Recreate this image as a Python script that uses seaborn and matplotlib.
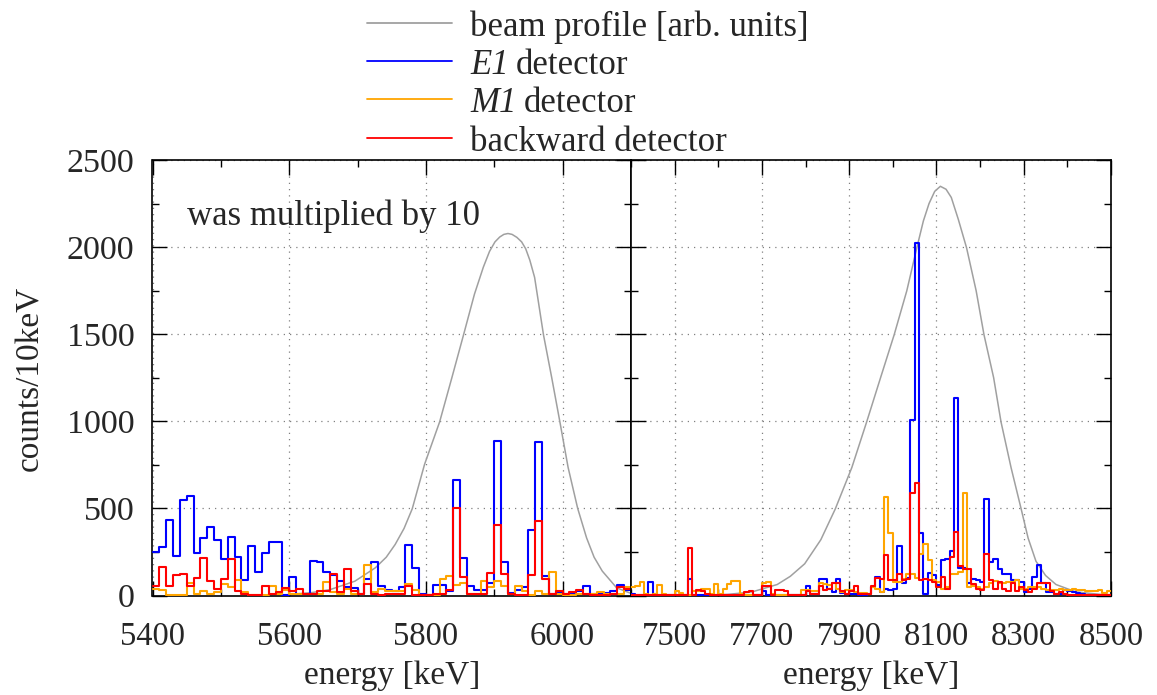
import numpy as np
import pandas as pd
import matplotlib
matplotlib.use("Agg")
import matplotlib.pyplot as plt
from matplotlib.lines import Line2D
from matplotlib.ticker import MultipleLocator
import seaborn as sns

# ---------------- data ----------------
bin_width = 10
left_start, left_stop = 5400, 6100
right_start, right_stop = 7400, 8500

blue_left = [250, 280, 435, 227, 546, 570, 244, 330, 393, 319,
             212, 338, 223, 88, 286, 137, 244, 309, 309, 5,
             107, 10, 10, 198, 193, 137, 120, 82, 50, 44,
             11, 97, 193, 55, 30, 27, 50, 289, 155, 11,
             3, 59, 59, 27, 664, 217, 57, 30, 30, 69,
             885, 193, 15, 30, 50, 374, 883, 113, 11, 19,
             11, 15, 27, 52, 11, 11, 15, 27, 59, 30]
orange_left = [40, 30, 5, 5, 5, 72, 10, 27, 10, 19,
               65, 46, 88, 19, 5, 5, 5, 53, 10, 34,
               10, 10, 10, 10, 10, 80, 20, 10, 40, 10,
               10, 177, 19, 40, 27, 27, 25, 65, 30, 3,
               3, 5, 97, 111, 59, 74, 11, 11, 82, 50,
               84, 55, 11, 55, 27, 5, 27, 11, 135, 11,
               5, 5, 11, 11, 11, 21, 11, 11, 11, 50]
red_left = [55, 162, 53, 118, 126, 55, 101, 217, 84, 36,
            95, 212, 27, 11, 5, 2, 55, 11, 21, 42,
            27, 36, 11, 11, 27, 27, 126, 21, 150, 27,
            11, 65, 11, 5, 11, 11, 11, 52, 2, 2,
            2, 11, 11, 34, 500, 107, 11, 11, 11, 130,
            405, 126, 11, 5, 5, 116, 429, 93, 11, 25,
            11, 21, 30, 11, 5, 5, 5, 11, 50, 36]

blue_right = [10, 5, 5, 5, 78, 10, 5, 5, 3, 3,
              3, 3, 3, 92, 3, 3, 3, 3, 3, 3,
              3, 3, 3, 3, 3, 3, 5, 5, 3, 3,
              27, 5, 5, 5, 5, 5, 5, 5, 5, 5,
              53, 10, 10, 97, 92, 40, 20, 97, 15, 10,
              10, 10, 5, 5, 10, 50, 105, 21, 40, 30,
              40, 285, 69, 101, 1010, 2021, 359, 11, 130, 116,
              59, 202, 212, 256, 1136, 160, 160, 69, 93, 88,
              78, 552, 193, 210, 154, 126, 126, 88, 88, 78,
              21, 40, 107, 177, 69, 21, 21, 11, 11, 30,
              27, 21, 15, 11, 5, 5, 5, 5, 5, 5]
orange_right = [50, 55, 78, 10, 5, 10, 59, 11, 5, 5,
                27, 15, 5, 5, 27, 27, 40, 40, 11, 65,
                11, 36, 65, 84, 84, 11, 5, 5, 5, 3,
                74, 78, 11, 5, 5, 5, 3, 5, 5, 30,
                30, 25, 25, 74, 65, 59, 69, 40, 20, 30,
                30, 20, 17, 17, 11, 50, 40, 21, 566, 360,
                78, 78, 97, 126, 126, 100, 237, 298, 202, 88,
                78, 40, 46, 126, 126, 135, 590, 50, 53, 50,
                40, 50, 69, 82, 69, 69, 78, 78, 88, 40,
                40, 46, 46, 46, 40, 30, 30, 30, 40, 34,
                30, 40, 30, 30, 27, 27, 27, 30, 15, 27]
red_right = [5, 3, 3, 3, 3, 3, 3, 3, 3, 3,
             5, 3, 3, 270, 5, 34, 27, 11, 5, 5,
             5, 5, 5, 5, 5, 5, 19, 25, 5, 3,
             53, 53, 5, 30, 30, 25, 3, 5, 5, 5,
             27, 11, 11, 53, 30, 40, 74, 69, 27, 11,
             27, 52, 11, 11, 11, 53, 103, 97, 230, 88,
             88, 126, 88, 92, 590, 643, 88, 92, 88, 78,
             50, 107, 40, 220, 362, 170, 150, 154, 65, 40,
             30, 237, 88, 40, 78, 40, 27, 69, 27, 50,
             30, 21, 40, 69, 69, 69, 27, 11, 21, 11,
             5, 5, 5, 5, 5, 5, 5, 5, 5, 5]

beam_left_E = [5600, 5630, 5660, 5696, 5726, 5742, 5755, 5768, 5780, 5798,
               5820, 5838, 5855, 5871, 5884, 5893, 5901, 5908, 5914, 5920,
               5926, 5933, 5940, 5946, 5952, 5959, 5972, 5984, 5996, 6008,
               6022, 6035, 6046, 6058, 6079, 6100]
beam_left_V = [6, 15, 34, 82, 159, 220, 293, 385, 498, 753,
               996, 1251, 1496, 1730, 1885, 1975, 2030, 2058, 2073, 2078,
               2073, 2056, 2030, 1990, 1925, 1826, 1496, 1251, 996, 735,
               500, 331, 220, 140, 44, 12]
beam_right_E = [7400, 7560, 7621, 7678, 7735, 7765, 7798, 7835, 7868, 7906,
                7940, 7972, 8003, 8032, 8055, 8070, 8083, 8096, 8109, 8122,
                8134, 8150, 8169, 8191, 8209, 8231, 8248, 8271, 8294, 8310,
                8328, 8350, 8374, 8419, 8476, 8500]
beam_right_V = [0, 2, 6, 21, 63, 110, 182, 320, 496, 734,
                996, 1251, 1496, 1749, 1996, 2150, 2250, 2320, 2349, 2332,
                2285, 2160, 1996, 1749, 1496, 1251, 996, 734, 498, 330,
                197, 115, 63, 21, 6, 3]

legend_labels = ["beam profile [arb. units]", "E1 detector",
                 "M1 detector", "backward detector"]
legend_italic = ["", "E1", "M1", ""]
note_text = "was multiplied by 10"
ylabel_text = "counts/10keV"
xlabel_text = "energy [keV]"
left_ticks = [5400, 5600, 5800, 6000]
right_ticks = [7500, 7700, 7900, 8100, 8300, 8500]

# ---------------- style ----------------
sns.set_style("ticks")
plt.rcParams['font.family'] = ['Liberation Serif', 'DejaVu Serif']

FS_TEXT = 25
FS_XT = 23.5
FS_YT = 24.5
FS_LAB = 24
COL_BEAM = '#a0a0a0'
COL_BLUE = '#0000ff'
COL_ORANGE = '#ffa500'
COL_RED = '#ff0000'
LW = 1.5

W, H = 1157, 695
fig = plt.figure(figsize=(W / 100, H / 100), dpi=100)

ax_l = fig.add_axes([152.5 / W, 1 - 595.5 / H, (631 - 152.5) / W, (595.5 - 160) / H])
ax_r = fig.add_axes([631 / W, 1 - 595.5 / H, (1111 - 631) / W, (595.5 - 160) / H])


def draw_panel(ax, start, stop, blue, orange, red, bE, bV):
    nbins = len(blue)
    centers = start + bin_width * (np.arange(nbins) + 0.5)
    sns.lineplot(x=bE, y=bV, ax=ax, color=COL_BEAM, lw=1.1, zorder=2)
    for vals, col, z in ((blue, COL_BLUE, 3), (orange, COL_ORANGE, 4), (red, COL_RED, 5)):
        df = pd.DataFrame({"E": centers, "w": np.asarray(vals, dtype=float)})
        sns.histplot(data=df, x="E", weights="w", bins=nbins, binrange=(start, stop),
                     element="step", fill=False, color=col, linewidth=LW, ax=ax, zorder=z)
    ax.set_xlim(start, stop)
    ax.set_ylim(0, 2500)
    ax.yaxis.set_major_locator(MultipleLocator(500))
    ax.yaxis.set_minor_locator(MultipleLocator(250))
    ax.xaxis.set_minor_locator(MultipleLocator(100))
    ax.grid(True, which='major', linestyle=(0, (1, 4)), color='#808080', lw=0.9)
    ax.set_axisbelow(True)
    ax.tick_params(which='both', direction='in', top=True, right=True,
                   width=1.0, color='black')
    ax.tick_params(which='major', length=11)
    ax.tick_params(which='minor', length=5)
    ax.tick_params(axis='x', which='major', pad=19, labelsize=FS_XT)
    ax.tick_params(axis='y', which='major', pad=13, labelsize=FS_YT)
    for s in ax.spines.values():
        s.set_linewidth(1.2)
        s.set_color('black')
    ax.set_ylabel("")
    ax.set_xlabel(xlabel_text, fontsize=FS_LAB, labelpad=6)


draw_panel(ax_l, left_start, left_stop, blue_left, orange_left, red_left,
           beam_left_E, beam_left_V)
draw_panel(ax_r, right_start, right_stop, blue_right, orange_right, red_right,
           beam_right_E, beam_right_V)

ax_l.set_xticks(left_ticks)
ax_r.set_xticks(right_ticks)
ax_r.tick_params(axis='y', labelleft=False)

ax_l.text(5451, 2124, note_text, fontsize=FS_TEXT, ha='left', va='baseline')

fig.text(30 / W, 1 - 378 / H, ylabel_text, rotation=90, fontsize=FS_LAB,
         ha='center', va='center')

# ---------------- legend (drawn row by row) ----------------
renderer = fig.canvas.get_renderer()
row_y = [23, 61, 99, 138]
colors = [COL_BEAM, COL_BLUE, COL_ORANGE, COL_RED]
for y, col, lab, it in zip(row_y, colors, legend_labels, legend_italic):
    fig.add_artist(Line2D([367 / W, 452 / W], [1 - y / H, 1 - y / H],
                          color=col, lw=1.3, transform=fig.transFigure))
    base = 1 - (y + 13) / H
    x0 = 470 / W
    rest = lab
    if it:
        t = fig.text(x0, base, it, fontsize=FS_TEXT, style='italic',
                     ha='left', va='baseline')
        bb = t.get_window_extent(renderer)
        x0 = (bb.x1 + 7) / W
        rest = lab[len(it):].lstrip()
    fig.text(x0, base, rest, fontsize=FS_TEXT, ha='left', va='baseline')

fig.savefig("out.png", dpi=100)
